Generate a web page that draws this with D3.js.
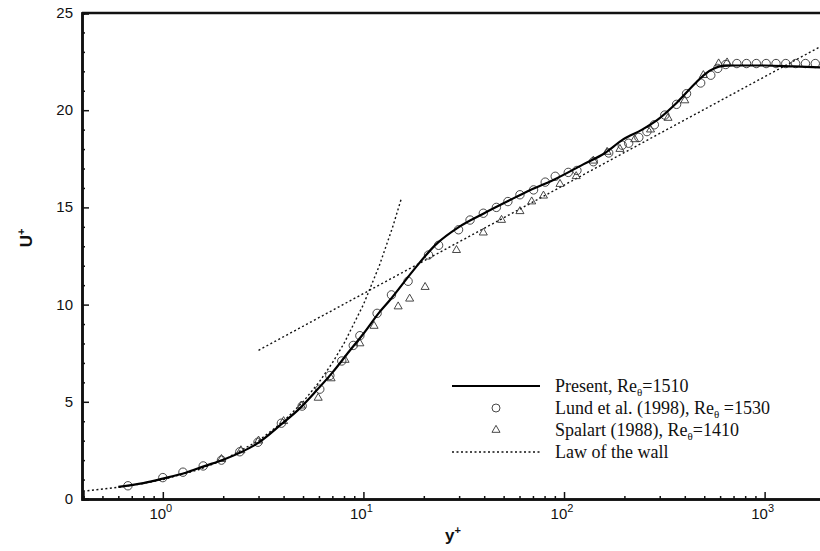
<!DOCTYPE html>
<html lang="en">
  <head>
    <meta charset="UTF-8" />
    <script src="https://cdn.jsdelivr.net/npm/d3@7"></script>
    <title>U+ versus y+</title>
    <style>
      body { margin: 0; background: #fff; }
      .tick-label { font-family: Arial, "Liberation Sans", sans-serif; font-size: 15px; fill: #111; }
      .axis-title { font-family: Arial, "Liberation Sans", sans-serif; font-size: 17px; font-weight: bold; fill: #111; }
      .legend { font-family: "Liberation Serif", "DejaVu Serif", serif; font-size: 18px; fill: #111; }
    </style>
  </head>
  <body>
    <svg width="820" height="551"></svg>
    <script>
      // Present DNS, Re_theta = 1510 (solid)
      const presentYp = [0.6, 0.8, 1.0, 1.3, 1.6, 2.0, 2.5, 3.0, 3.9, 4.8, 5.8, 7.0, 8.5, 10, 12, 13.6, 17.7, 23, 30, 40, 52, 68, 88, 124, 160, 197, 245, 292, 366, 463, 510, 560, 620, 700, 1000, 1400, 2000];
      const presentU  = [0.62, 0.82, 1.05, 1.35, 1.68, 2.02, 2.45, 2.9, 3.85, 4.65, 5.55, 6.5, 7.6, 8.5, 9.6, 10.25, 11.75, 13.1, 14.0, 14.7, 15.3, 15.9, 16.4, 17.2, 17.8, 18.5, 19.0, 19.5, 20.4, 21.5, 21.9, 22.15, 22.28, 22.3, 22.3, 22.25, 22.2];

      // Lund et al. (1998), Re_theta = 1530 (circles)
      const lundYp = [0.67, 1.0, 1.26, 1.59, 1.96, 2.42, 2.98, 3.9, 4.95, 6.06, 6.8, 7.8, 8.9, 9.6, 11.7, 13.8, 16.7, 21.1, 23.7, 29.8, 34, 39.6, 46, 52.5, 60.3, 70.5, 80.6, 90.4, 105, 116, 140, 167, 195, 210, 236, 259, 282, 318, 364, 408, 480, 539, 584, 640, 727, 812, 909, 1018, 1140, 1275, 1428, 1598, 1789];
      const lundU  = [0.68, 1.1, 1.38, 1.7, 2.0, 2.43, 2.92, 3.9, 4.78, 5.65, 6.35, 7.1, 7.9, 8.4, 9.55, 10.5, 11.2, 12.55, 13.05, 13.85, 14.35, 14.7, 15.0, 15.3, 15.65, 15.9, 16.3, 16.6, 16.8, 16.9, 17.35, 17.8, 18.2, 18.3, 18.6, 18.9, 19.25, 19.75, 20.3, 20.85, 21.4, 21.8, 22.15, 22.35, 22.4, 22.4, 22.4, 22.4, 22.4, 22.4, 22.4, 22.4, 22.4];

      // Spalart (1988), Re_theta = 1410 (triangles)
      const spalartYp = [1.96, 2.45, 3.0, 4.0, 4.9, 5.95, 6.9, 8.1, 9.6, 11.3, 14.9, 17.0, 20.3, 29.1, 39.6, 48.8, 60.3, 69, 79, 95.5, 115, 140, 164, 190, 225, 270, 330, 400, 495, 590, 650];
      const spalartU  = [2.05, 2.5, 3.0, 4.0, 4.8, 5.2, 6.2, 7.15, 8.0, 8.9, 9.9, 10.3, 10.9, 12.8, 13.7, 14.35, 14.8, 15.3, 15.6, 16.2, 16.6, 17.4, 17.85, 18.0, 18.5, 19.0, 19.6, 20.5, 21.8, 22.4, 22.45];

      // Law of the wall: viscous sublayer and log law (dotted)
      const lawLinYp = [0.4, 0.6, 0.8, 1, 1.5, 2, 3, 4, 5, 6, 7, 8, 10, 12, 14, 15.5];
      const lawLinU  = [0.4, 0.6, 0.8, 1, 1.5, 2, 3, 4, 5, 6, 7, 8, 10, 12, 14, 15.5];
      const lawLogYp = [3, 2000];
      const lawLogU  = [7.65, 23.4];

      const xMajor = [1, 10, 100, 1000];
      const xMajorExp = ["0", "1", "2", "3"];
      const yMajor = [0, 5, 10, 15, 20, 25];

      const zip = (a, b) => a.map((v, i) => [v, b[i]]);

      const svg = d3.select("svg");
      const mLeft = 82, mTop = 13, mBottom = 499, mRight = 825;

      const x = d3.scaleLog().domain([0.4, 2000]).range([mLeft + 1, mRight]);
      const y = d3.scaleLinear().domain([0, 25]).range([mBottom, mTop]);

      svg.append("clipPath").attr("id", "plot")
        .append("rect").attr("x", mLeft).attr("y", mTop).attr("width", mRight - mLeft).attr("height", mBottom - mTop);

      // minor ticks
      const xMinor = [];
      for (let d = 0.1; d < 2000; d *= 10) {
        for (let k = 2; k <= 9; k++) {
          const v = +(k * d).toPrecision(3);
          if (v >= 0.4 && v <= 2000 && !xMajor.includes(v)) xMinor.push(v);
        }
      }
      const yMinor = d3.range(1, 25).filter((v) => v % 5 !== 0);

      const gx = svg.append("g").attr("transform", `translate(0,${mBottom})`);
      gx.call(d3.axisBottom(x).tickValues(xMinor).tickSize(-3).tickFormat(""));
      gx.append("g").call(d3.axisBottom(x).tickValues(xMajor).tickSize(-7).tickFormat(""));

      const gy = svg.append("g").attr("transform", `translate(${mLeft},0)`);
      gy.call(d3.axisLeft(y).tickValues(yMinor).tickSize(-3).tickFormat(""));
      gy.append("g").call(d3.axisLeft(y).tickValues(yMajor).tickSize(-7).tickFormat(""));

      svg.selectAll(".domain").attr("stroke", "#111").attr("stroke-width", 2.5);
      svg.selectAll(".tick line").attr("stroke", "#111").attr("stroke-width", 1.5);

      // top border
      svg.append("line")
        .attr("x1", mLeft).attr("x2", mRight).attr("y1", mTop).attr("y2", mTop)
        .attr("stroke", "#111").attr("stroke-width", 2.5);

      // tick labels
      svg.selectAll(".ylab").data(yMajor).enter().append("text")
        .attr("class", "tick-label")
        .attr("x", 73).attr("y", (d) => y(d) + 5)
        .attr("text-anchor", "end")
        .text((d) => d);

      const xl = svg.selectAll(".xlab").data(xMajor).enter().append("text")
        .attr("class", "tick-label")
        .attr("x", (d) => x(d) - 2).attr("y", 519)
        .attr("text-anchor", "middle");
      xl.append("tspan").text("10");
      xl.append("tspan").attr("dy", -7).attr("font-size", 11).text((d, i) => xMajorExp[i]);

      // axis titles
      const xt = svg.append("text").attr("class", "axis-title")
        .attr("x", 453).attr("y", 541).attr("text-anchor", "middle");
      xt.append("tspan").text("y");
      xt.append("tspan").attr("dy", -7).attr("font-size", 11).text("+");

      const yt = svg.append("text").attr("class", "axis-title")
        .attr("transform", "translate(32,238) rotate(-90)")
        .attr("text-anchor", "middle");
      yt.append("tspan").text("U");
      yt.append("tspan").attr("dy", -7).attr("font-size", 11).text("+");

      const plot = svg.append("g").attr("clip-path", "url(#plot)");
      const line = d3.line().x((d) => x(d[0])).y((d) => y(d[1]));

      // law of the wall
      [zip(lawLinYp, lawLinU), zip(lawLogYp, lawLogU)].forEach((seg) => {
        plot.append("path").datum(seg)
          .attr("d", line)
          .attr("fill", "none").attr("stroke", "#111")
          .attr("stroke-width", 1.4).attr("stroke-dasharray", "2,2.5");
      });

      // circles
      plot.selectAll(".lund").data(zip(lundYp, lundU)).enter().append("circle")
        .attr("cx", (d) => x(d[0])).attr("cy", (d) => y(d[1])).attr("r", 4.2)
        .attr("fill", "none").attr("stroke", "#333").attr("stroke-width", 0.9);

      // triangles
      const tri = d3.symbol().type(d3.symbolTriangle).size(28);
      plot.selectAll(".spal").data(zip(spalartYp, spalartU)).enter().append("path")
        .attr("d", tri)
        .attr("transform", (d) => `translate(${x(d[0])},${y(d[1])})`)
        .attr("fill", "none").attr("stroke", "#333").attr("stroke-width", 0.9);

      // present
      plot.append("path").datum(zip(presentYp, presentU))
        .attr("d", line.curve(d3.curveMonotoneX))
        .attr("fill", "none").attr("stroke", "#000").attr("stroke-width", 2.2);

      // legend
      const lg = svg.append("g");
      const rows = [
        { pre: "Present, Re", post: "=1510" },
        { pre: "Lund et al. (1998), Re", post: " =1530" },
        { pre: "Spalart (1988), Re", post: "=1410" },
        { pre: "Law of the wall", post: null }
      ];
      const rowY = [386, 408, 430, 452];
      rows.forEach((r, i) => {
        const t = lg.append("text").attr("class", "legend").attr("x", 555).attr("y", rowY[i] + 6);
        t.append("tspan").text(r.pre);
        if (r.post !== null) {
          t.append("tspan").attr("dy", 4).attr("font-size", 11).text("\u03b8");
          t.append("tspan").attr("dy", -4).text(r.post);
        }
      });
      lg.append("line").attr("x1", 452).attr("x2", 540).attr("y1", rowY[0]).attr("y2", rowY[0])
        .attr("stroke", "#000").attr("stroke-width", 2.2);
      lg.append("circle").attr("cx", 496).attr("cy", rowY[1]).attr("r", 4)
        .attr("fill", "none").attr("stroke", "#333").attr("stroke-width", 0.9);
      lg.append("path").attr("d", tri).attr("transform", `translate(496,${rowY[2]})`)
        .attr("fill", "none").attr("stroke", "#333").attr("stroke-width", 0.9);
      lg.append("line").attr("x1", 452).attr("x2", 540).attr("y1", rowY[3]).attr("y2", rowY[3])
        .attr("stroke", "#111").attr("stroke-width", 1.4).attr("stroke-dasharray", "2,2.5");
    </script>
  </body>
</html>
